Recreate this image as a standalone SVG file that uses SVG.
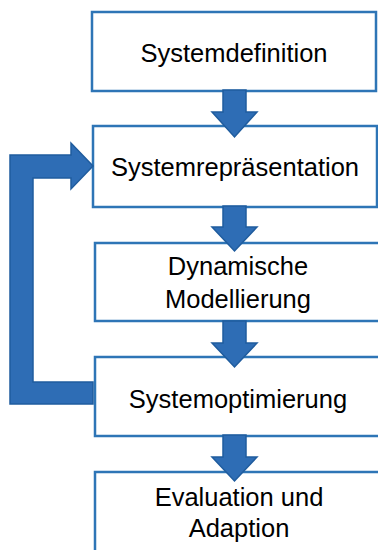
<svg xmlns="http://www.w3.org/2000/svg" width="378" height="550" viewBox="0 0 378 550">
<style>
.box{fill:#fff;stroke:#2E75B6;stroke-width:2.5}
.arr{fill:#2E6DB5;stroke:#1F5C9E;stroke-width:1.5;stroke-linejoin:miter}
.t{font-family:"Liberation Sans",Arial,sans-serif;font-size:25.5px;fill:#000;text-anchor:middle}
</style>
<rect width="378" height="550" fill="#fff"/>
<g id="n1"><rect class="box" x="92" y="12" width="284" height="79"/><text class="t" x="234" y="62">Systemdefinition</text></g>
<g id="n2"><rect class="box" x="93" y="126" width="284" height="81"/><text class="t" x="235" y="176">Systemrepräsentation</text></g>
<g id="n3"><rect class="box" x="95" y="243" width="288" height="78"/><text class="t" x="238" y="275">Dynamische</text><text class="t" x="238" y="308">Modellierung</text></g>
<g id="n4"><rect class="box" x="95" y="357" width="288" height="79"/><text class="t" x="238" y="408">Systemoptimierung</text></g>
<g id="n5"><rect class="box" x="95" y="472" width="288" height="90"/><text class="t" x="239" y="506">Evaluation und</text><text class="t" x="239" y="537">Adaption</text></g>
<g id="connectors">
<path class="arr" d="M223,90 H246 V112 H257 L234.5,137 L212,112 H223 Z"/>
<path class="arr" d="M223,206 H246 V227 H257 L234.5,251 L212,227 H223 Z"/>
<path class="arr" d="M223,321 H246 V343 H257 L234.5,367 L212,343 H223 Z"/>
<path class="arr" d="M223,435 H246 V457 H257 L234.5,481 L212,457 H223 Z"/>
<path class="arr" d="M10,155 H71 V143 L93,166 L71,189 V178 H33 V382 H93 V404 H10 Z"/>
</g>
</svg>
